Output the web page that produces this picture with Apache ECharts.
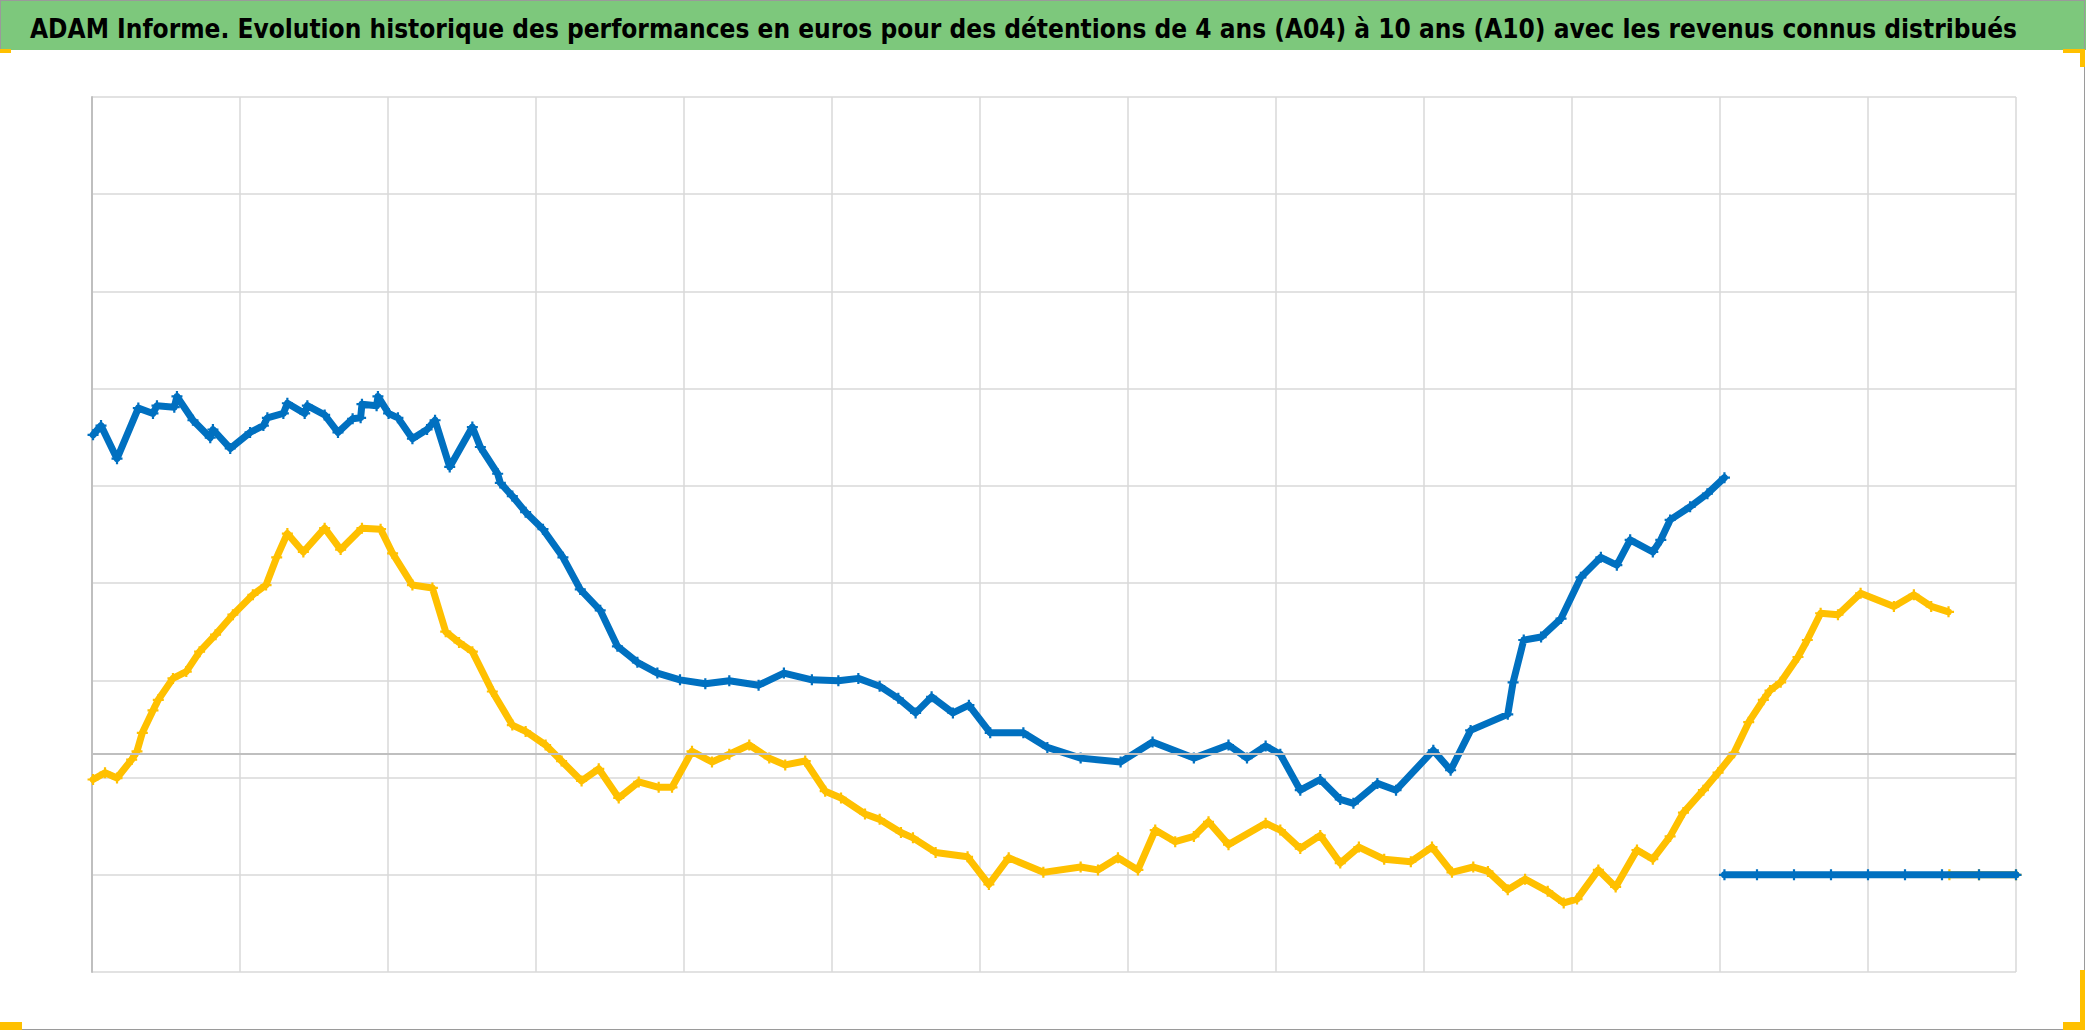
<!DOCTYPE html>
<html>
<head>
<meta charset="utf-8">
<script src="https://cdn.jsdelivr.net/npm/echarts@6/dist/echarts.min.js"></script>
<style>
  html, body { margin: 0; padding: 0; background: #ffffff; }
  #chart { width: 2086px; height: 1031px; }
</style>
</head>
<body>
<div id="chart"></div>
<script>
// ---- Data (time in grid columns, value in axis units) ----
const titleText = "ADAM Informe. Evolution historique des performances en euros pour des détentions de 4 ans (A04) à 10 ans (A10) avec les revenus connus distribués";

const blueTime = [0.007,0.061,0.169,0.313,0.412,0.439,0.556,0.574,0.682,0.799,0.817,0.934,1.068,1.158,1.185,1.293,1.320,1.437,1.455,1.572,1.662,1.761,1.815,1.824,1.923,1.932,2.004,2.067,2.165,2.264,2.318,2.417,2.570,2.624,2.741,2.759,2.840,2.930,3.047,3.182,3.299,3.434,3.550,3.685,3.820,3.973,4.144,4.306,4.504,4.675,4.864,5.043,5.178,5.322,5.448,5.565,5.673,5.817,5.925,6.069,6.293,6.455,6.680,6.950,7.166,7.445,7.679,7.804,7.930,8.029,8.164,8.299,8.434,8.523,8.685,8.811,9.063,9.180,9.315,9.566,9.602,9.674,9.791,9.926,10.060,10.195,10.303,10.393,10.546,10.600,10.663,10.798,10.915,11.030];
const blueValue = [90.5,92.4,85.6,96.0,94.9,96.5,96.2,98.4,93.5,89.9,91.6,87.7,91.0,92.4,94.0,94.9,97.0,94.9,96.5,94.6,91.0,93.8,94.0,96.8,96.5,98.4,94.9,94.0,89.7,91.6,93.5,83.9,92.1,88.0,82.5,80.6,77.9,74.6,71.1,65.3,58.7,54.4,47.0,43.7,41.5,40.1,39.3,39.9,39.0,41.5,40.1,39.9,40.4,38.8,36.3,33.3,36.6,33.3,34.9,29.2,29.2,26.2,24.0,23.2,27.3,24.0,26.7,24.0,26.5,24.8,17.4,19.6,15.5,14.7,18.8,17.4,25.6,21.5,29.7,33.0,39.6,48.3,48.9,52.7,61.2,65.3,63.7,68.9,66.4,68.9,73.0,75.7,78.4,81.7];
const blueZeroTime = [11.03,11.25,11.5,11.75,12.0,12.25,12.5,12.75,13.0];
const blueZeroValue = [0,0,0,0,0,0,0,0,0];

const yellowTime = [0.007,0.088,0.169,0.268,0.304,0.340,0.412,0.448,0.547,0.637,0.727,0.835,0.952,1.087,1.176,1.248,1.320,1.428,1.572,1.680,1.824,1.950,2.031,2.165,2.300,2.390,2.480,2.570,2.705,2.840,2.930,3.065,3.173,3.308,3.424,3.559,3.694,3.829,3.919,4.054,4.189,4.306,4.441,4.576,4.684,4.819,4.954,5.061,5.223,5.322,5.466,5.547,5.700,5.916,6.060,6.194,6.428,6.680,6.797,6.932,7.067,7.184,7.319,7.445,7.544,7.679,7.930,8.029,8.164,8.299,8.434,8.560,8.731,8.911,9.054,9.189,9.333,9.432,9.566,9.683,9.836,9.944,10.034,10.178,10.295,10.439,10.546,10.663,10.753,10.888,10.987,11.095,11.194,11.293,11.338,11.410,11.527,11.590,11.680,11.797,11.950,12.175,12.310,12.427,12.544];
const yellowValue = [19.6,21.0,19.9,23.7,25.4,29.2,33.8,36.0,40.4,41.8,45.9,49.4,53.5,57.6,59.6,65.3,70.2,66.4,71.3,66.9,71.3,71.1,66.1,59.6,59.0,50.0,47.8,45.9,37.7,30.8,29.5,26.7,23.4,19.3,21.8,15.8,19.1,18.0,18.0,25.4,23.2,24.8,26.7,24.0,22.6,23.4,17.2,15.8,12.5,11.4,8.7,7.6,4.6,3.7,-2.0,3.5,0.5,1.6,1.0,3.5,1.0,9.2,6.8,7.9,10.9,6.2,10.6,9.2,5.4,8.1,2.4,5.7,3.2,2.7,5.7,0.5,1.6,0.7,-3.1,-0.9,-3.4,-5.8,-5.0,1.0,-2.5,5.1,3.2,7.9,12.8,17.4,21.0,25.1,31.4,36.0,37.9,39.6,44.8,48.3,53.8,53.5,57.9,55.2,57.6,55.2,54.1];
const yellowZeroTime = [12.55,12.75,13.0];
const yellowZeroValue = [0,0,0];

const axisCrossValue = 25;     // the darker horizontal axis line
const yMin = -20, yMax = 160, yStep = 20;
const xMin = 0, xMax = 13, xStep = 1;

// ---- Chart ----
const BLUE = '#0070c0', GOLD = '#ffc000';
const PLUS = 'path://M4 0H6V4H10V6H6V10H4V6H0V4H4Z';
const pairs = (xs, ys) => xs.map((x, i) => [x, ys[i]]);

function lineSeries(name, xs, ys, color, z) {
  return {
    name, type: 'line', data: pairs(xs, ys), z,
    symbol: PLUS, symbolSize: 11, showSymbol: true,
    itemStyle: { color },
    lineStyle: { color, width: 7, cap: 'round', join: 'round' },
    silent: true
  };
}

const W = 2086, H = 1031;
const chart = echarts.init(document.getElementById('chart'), null, { renderer: 'svg' });
chart.setOption({
  animation: false,
  backgroundColor: '#ffffff',
  graphic: [
    { type: 'rect', left: 0, top: 0, shape: { width: W, height: 50 }, style: { fill: '#7dc87c' }, z: -10 },
    { type: 'line', shape: { x1: 0.5, y1: 0.5, x2: W - 1, y2: 0.5 }, style: { stroke: '#9a9a9a', lineWidth: 1 } },
    { type: 'line', shape: { x1: 0.5, y1: 0, x2: 0.5, y2: 50 }, style: { stroke: '#9a9a9a', lineWidth: 1 } },
    { type: 'line', shape: { x1: W - 1.5, y1: 0, x2: W - 1.5, y2: H - 1 }, style: { stroke: '#9a9a9a', lineWidth: 1 } },
    { type: 'line', shape: { x1: 0, y1: H - 1.5, x2: W - 1, y2: H - 1.5 }, style: { stroke: '#9a9a9a', lineWidth: 1 } },
    { type: 'rect', left: 0, top: 49, shape: { width: 11, height: 4 }, style: { fill: GOLD } },
    { type: 'rect', left: 2063, top: 49, shape: { width: 22, height: 4 }, style: { fill: GOLD } },
    { type: 'rect', left: 2080, top: 49, shape: { width: 5, height: 18 }, style: { fill: GOLD } },
    { type: 'rect', left: 0, top: 1022, shape: { width: 22, height: 8 }, style: { fill: GOLD } },
    { type: 'rect', left: 2063, top: 1022, shape: { width: 22, height: 8 }, style: { fill: GOLD } },
    { type: 'rect', left: 2080, top: 970, shape: { width: 5, height: 60 }, style: { fill: GOLD } }
  ],
  title: {
    text: titleText, left: 25, top: 11,
    textStyle: { fontFamily: 'DejaVu Sans Condensed', fontWeight: 'bold', fontSize: 26, color: '#000000' }
  },
  grid: { left: 92, right: 70, top: 97, bottom: 59, containLabel: false },
  xAxis: {
    type: 'value', min: xMin, max: xMax, interval: xStep,
    axisLine: { show: false }, axisTick: { show: false }, axisLabel: { show: false },
    splitLine: { show: true, lineStyle: { color: '#d9d9d9', width: 1.5 } }
  },
  yAxis: {
    type: 'value', min: yMin, max: yMax, interval: yStep,
    axisLine: { show: true, onZero: false, lineStyle: { color: '#bfbfbf', width: 2 } },
    axisTick: { show: false }, axisLabel: { show: false },
    splitLine: { show: true, lineStyle: { color: '#d9d9d9', width: 1.5 } }
  },
  series: [
    Object.assign(lineSeries('A04', yellowTime, yellowValue, GOLD, 2), {
      markLine: {
        silent: true, symbol: 'none', label: { show: false },
        lineStyle: { color: '#bfbfbf', width: 2, type: 'solid' },
        data: [{ yAxis: axisCrossValue }]
      }
    }),
    lineSeries('A04 ', yellowZeroTime, yellowZeroValue, GOLD, 2),
    lineSeries('A10', blueTime, blueValue, BLUE, 3),
    lineSeries('A10 ', blueZeroTime, blueZeroValue, BLUE, 3)
  ]
});
</script>
</body>
</html>
